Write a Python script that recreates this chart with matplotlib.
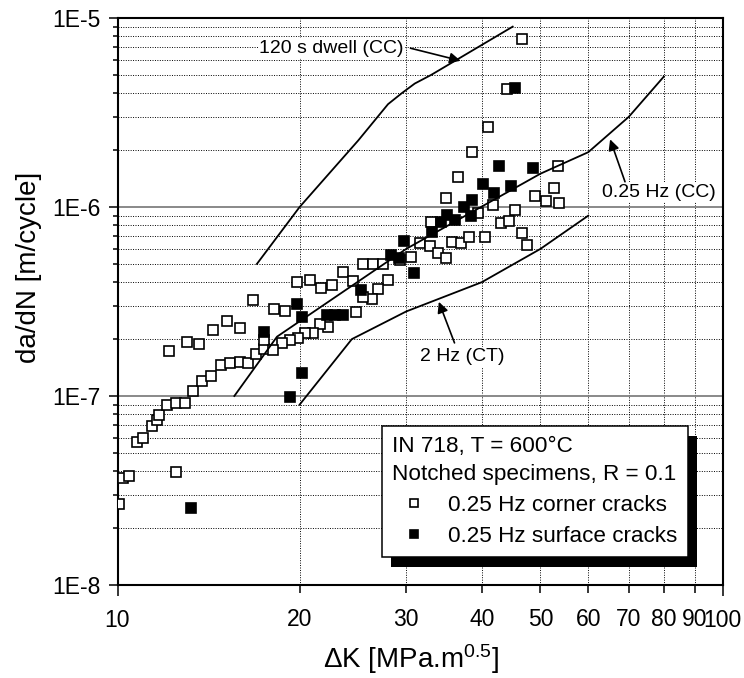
import matplotlib
matplotlib.use("Agg")
import matplotlib.pyplot as plt
import matplotlib.ticker as mticker
import matplotlib.patheffects as pe

plt.rcParams['font.family'] = ['Liberation Sans', 'DejaVu Sans']
plt.rcParams['mathtext.fontset'] = 'custom'
plt.rcParams['mathtext.rm'] = 'Liberation Sans'
plt.rcParams['mathtext.default'] = 'regular'

# 0.25 Hz corner cracks (open squares)
corner_dk = [10.07, 10.22, 10.46, 10.76, 11.03, 11.41, 11.61, 11.73, 12.09, 12.50,
             12.92, 13.35, 13.80, 14.27, 14.82, 15.36, 15.91, 16.45, 16.91, 17.44,
             17.44, 12.50, 12.16, 13.02, 13.66, 14.37, 15.16, 15.91, 16.74,
             19.80, 20.77, 21.70, 22.66, 23.60, 24.52, 25.47, 26.46, 27.49, 27.98,
             27.00, 26.39, 25.47, 18.11, 18.92, 24.76, 22.31, 21.58, 21.05, 20.41,
             19.85, 19.25, 18.67, 18.07, 29.36,
             38.59, 36.53, 34.90, 33.00, 31.68, 30.58, 32.83, 33.85, 34.90, 35.70,
             36.91, 38.05, 40.55, 39.42, 41.80, 43.09, 44.31, 45.46, 46.62, 47.46,
             48.94, 51.09, 52.67, 53.62, 53.48, 46.56, 43.98, 40.96]
corner_dadn = [2.69e-8, 3.68e-8, 3.77e-8, 5.69e-8, 5.97e-8, 6.93e-8, 7.46e-8, 7.93e-8, 8.96e-8, 9.22e-8,
               9.22e-8, 1.06e-7, 1.20e-7, 1.27e-7, 1.46e-7, 1.49e-7, 1.52e-7, 1.49e-7, 1.67e-7, 1.77e-7,
               1.98e-7, 3.98e-8, 1.74e-7, 1.93e-7, 1.88e-7, 2.23e-7, 2.48e-7, 2.28e-7, 3.22e-7,
               4.03e-7, 4.11e-7, 3.72e-7, 3.87e-7, 4.55e-7, 4.07e-7, 4.99e-7, 4.99e-7, 4.99e-7, 4.11e-7,
               3.67e-7, 3.25e-7, 3.35e-7, 2.90e-7, 2.83e-7, 2.78e-7, 2.31e-7, 2.40e-7, 2.16e-7, 2.16e-7,
               2.02e-7, 1.98e-7, 1.91e-7, 1.75e-7, 5.25e-7,
               1.96e-6, 1.45e-6, 1.11e-6, 8.36e-7, 6.43e-7, 5.46e-7, 6.22e-7, 5.69e-7, 5.36e-7, 6.55e-7,
               6.48e-7, 6.92e-7, 6.97e-7, 9.33e-7, 1.03e-6, 8.26e-7, 8.47e-7, 9.64e-7, 7.31e-7, 6.27e-7,
               1.15e-6, 1.08e-6, 1.26e-6, 1.05e-6, 1.65e-6, 7.77e-6, 4.20e-6, 2.66e-6]

# 0.25 Hz surface cracks (filled squares)
surface_dk = [13.22, 17.44, 19.79, 20.17, 20.18, 19.30, 22.2, 22.9, 23.6, 25.27,
              28.27, 29.17, 29.80, 30.96, 33.13, 34.29, 34.99, 36.07, 37.37, 38.33,
              38.59, 40.13, 41.90, 44.65, 42.77, 48.69, 45.46]
surface_dadn = [2.56e-8, 2.19e-7, 3.07e-7, 2.61e-7, 1.32e-7, 9.93e-8, 2.68e-7, 2.68e-7, 2.68e-7, 3.64e-7,
                5.57e-7, 5.35e-7, 6.64e-7, 4.49e-7, 7.40e-7, 8.36e-7, 9.08e-7, 8.53e-7, 1.00e-6, 8.96e-7,
                1.09e-6, 1.33e-6, 1.19e-6, 1.29e-6, 1.65e-6, 1.60e-6, 4.26e-6]

# reference curves
dwell_dk = [17, 20, 25, 28, 29.5, 31, 33, 40, 45]
dwell_dadn = [5e-7, 1e-6, 2.25e-6, 3.5e-6, 4.0e-6, 4.5e-6, 5.0e-6, 7.2e-6, 9e-6]
cc_dk = [15.6, 18.35, 30, 50, 60, 70, 80]
cc_dadn = [1e-7, 2.06e-7, 6e-7, 1.5e-6, 1.95e-6, 3e-6, 4.9e-6]
ct_dk = [20, 24.4, 30, 40, 50, 60]
ct_dadn = [9e-8, 2e-7, 2.8e-7, 4e-7, 6e-7, 9e-7]

x_ticks = [10, 20, 30, 40, 50, 60, 70, 80, 90, 100]
y_ticks = [1e-8, 1e-7, 1e-6, 1e-5]
y_ticklabels = ['1E-8', '1E-7', '1E-6', '1E-5']

fig = plt.figure(figsize=(7.44, 6.78), dpi=100)
ax = fig.add_axes([117.5 / 744, 1 - 585 / 678, 605 / 744, 567 / 678])
ax.set_xscale('log')
ax.set_yscale('log')
ax.set_xlim(10, 100)
ax.set_ylim(1e-8, 1e-5)

# ticks
ax.xaxis.set_major_locator(mticker.FixedLocator([10, 100]))
ax.xaxis.set_minor_locator(mticker.FixedLocator(x_ticks[1:-1]))
ax.xaxis.set_major_formatter(mticker.FuncFormatter(lambda v, p: '%d' % round(v)))
ax.xaxis.set_minor_formatter(mticker.FuncFormatter(lambda v, p: '%d' % round(v)))
ax.yaxis.set_major_locator(mticker.FixedLocator(y_ticks))
ax.yaxis.set_major_formatter(mticker.FixedFormatter(y_ticklabels))
ax.yaxis.set_minor_locator(mticker.LogLocator(base=10, subs=range(2, 10)))
ax.yaxis.set_minor_formatter(mticker.NullFormatter())
ax.tick_params(axis='x', which='major', length=8, width=1.1, labelsize=16.5, pad=9)
ax.tick_params(axis='x', which='minor', length=6, width=1.1, labelsize=16.5, pad=10.5)
ax.tick_params(axis='y', which='major', length=6.5, width=1.1, labelsize=16.5, pad=6)
ax.tick_params(axis='y', which='minor', length=3.5, width=1.1)
for s in ax.spines.values():
    s.set_linewidth(1.5)

# grid
ax.set_axisbelow(True)
ax.grid(which='minor', axis='both', color='k', linestyle=(0, (1, 1.5)), linewidth=0.7)
ax.grid(which='major', axis='y', color='#808080', linestyle='-', linewidth=1.3)

# curves
ax.plot(dwell_dk, dwell_dadn, color='k', lw=1.3, zorder=4)
ax.plot(cc_dk, cc_dadn, color='k', lw=1.3, zorder=4)
ax.plot(ct_dk, ct_dadn, color='k', lw=1.3, zorder=4)

# data
ax.plot(corner_dk, corner_dadn, 's', ms=7, mfc='white', mec='k', mew=1.2, ls='none',
        zorder=3, label='0.25 Hz corner cracks')
ax.plot(surface_dk, surface_dadn, 's', ms=7, mfc='k', mec='k', mew=1.2, ls='none',
        zorder=3.5, label='0.25 Hz surface cracks')

# annotations
arrow = dict(arrowstyle='-|>', color='k', lw=1.2, mutation_scale=16, shrinkA=0, shrinkB=0)
box = dict(fc='white', ec='none', pad=1)
ax.text(29.7, 6.92e-6, '120 s dwell (CC)', fontsize=14, ha='right', va='center', bbox=box, zorder=5)
ax.annotate('', xy=(36.9, 5.94e-6), xytext=(30.5, 6.92e-6), arrowprops=arrow, zorder=5)
ax.text(78.5, 1.2e-6, '0.25 Hz (CC)', fontsize=14, ha='center', va='center', bbox=box, zorder=5)
ax.annotate('', xy=(65.2, 2.28e-6), xytext=(69.0, 1.36e-6), arrowprops=arrow, zorder=5)
ax.text(37.2, 1.61e-7, '2 Hz (CT)', fontsize=14, ha='center', va='center', bbox=box, zorder=5)
ax.annotate('', xy=(33.97, 3.15e-7), xytext=(36.06, 1.91e-7), arrowprops=arrow, zorder=5)

# legend
leg = ax.legend(title='IN 718, T = 600°C\nNotched specimens, R = 0.1', alignment='left',
                loc='lower left', bbox_to_anchor=(0.4367, 0.0489), borderaxespad=0,
                fontsize=16.2, title_fontsize=16.2, fancybox=False, framealpha=1,
                edgecolor='k', handletextpad=0.5, labelspacing=0.45, markerscale=0.8,
                borderpad=0.45)
leg.get_title().set_linespacing(1.4)
leg.get_frame().set_linewidth(1.1)
leg.get_frame().set_path_effects([pe.SimplePatchShadow(offset=(7, -7), shadow_rgbFace='k', alpha=1),
                                  pe.Normal()])

ax.set_xlabel('ΔK [MPa.m$^{0.5}$]', fontsize=20)
ax.set_ylabel('da/dN [m/cycle]', fontsize=20)
ax.xaxis.set_label_coords(0.485, -0.1)
ax.yaxis.set_label_coords(-0.125, 0.56)

fig.savefig('out.png', dpi=100)
